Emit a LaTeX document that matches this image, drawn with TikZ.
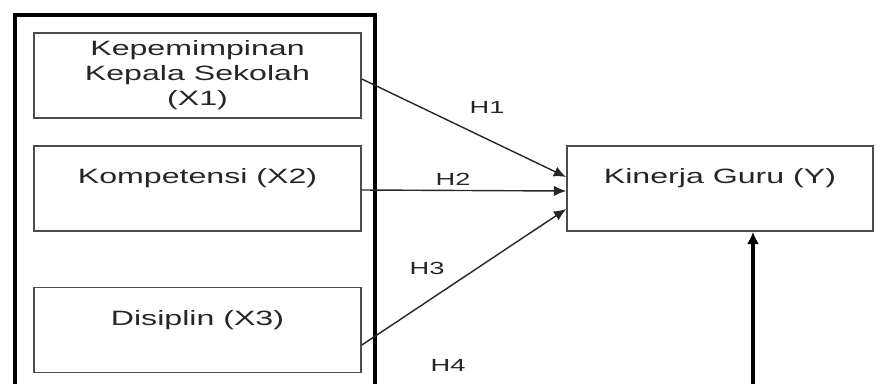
\documentclass[tikz,border=0pt]{standalone}
\usepackage{fontspec}
\setmainfont{Liberation Sans}[FakeStretch=1.55]
\usetikzlibrary{arrows.meta,calc}

\tikzset{
  varbox/.style={draw=black!70,line width=1pt,minimum width=6.54cm,minimum height=1.7cm,
    inner sep=0pt,align=center,text=black!85,font=\fontsize{11.8}{14.2}\selectfont},
  hyp/.style={draw=black!85,line width=0.8pt,-{Latex[length=7pt,width=6pt]}},
  hlabel/.style={text=black!85,font=\fontsize{10}{12}\selectfont}
}

\begin{document}
\begin{tikzpicture}[x=0.02cm,y=-0.02cm]
\useasboundingbox (0,0) rectangle (887,383);
\clip (0,0) rectangle (887,383);

% group of independent variables
\draw [line width=2.2pt] (15,15) rectangle (375,430);

\node[varbox] (X1) at (197.5,75.5) {Kepemimpinan\\Kepala Sekolah\\(X1)};
\node[varbox] (X2) at (197.5,188.5) {Kompetensi (X2)\\\mbox{}};
\node[varbox] (X3) at (197.5,330) {Disiplin (X3)\\\mbox{}};
\node[varbox,minimum width=6.12cm] (Y) at (720,188.5) {Kinerja Guru (Y)\\\mbox{}};

\coordinate (yfoot) at (753,400);

\draw [hyp] ($(X1.east)+(0,3.5)$) -- ($(Y.west)+(0,-11.5)$);
\draw [hyp] ($(X2.east)+(0,1.5)$) -- ($(Y.west)+(0,2.5)$);
\draw [hyp] ($(X3.east)+(0,15)$) -- ($(Y.west)+(0,20.5)$);
\draw [line width=2pt,-{Latex[length=7pt,width=7pt]}] (yfoot) -- (yfoot |- Y.south);

\node[hlabel] (h1) at (487,107) {H1};
\node[hlabel] (h2) at (453,179) {H2};
\node[hlabel] (h3) at (427,268) {H3};
\node[hlabel] (h4) at (448,365) {H4};
\end{tikzpicture}
\end{document}
